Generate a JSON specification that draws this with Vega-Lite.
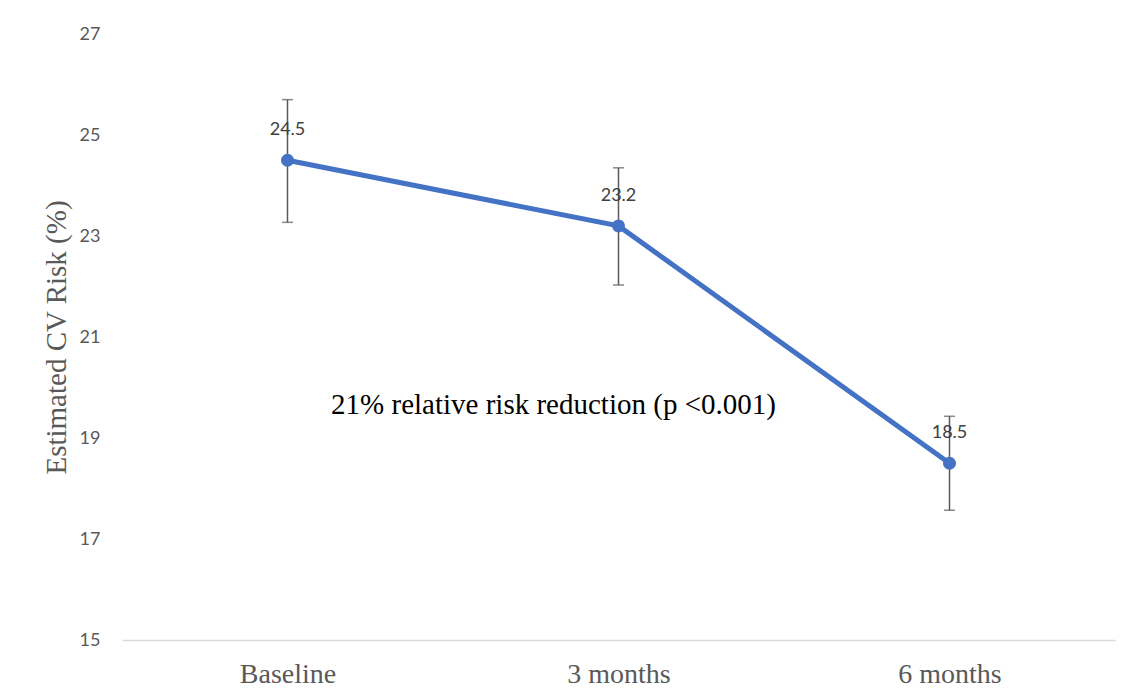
{
  "$schema": "https://vega.github.io/schema/vega-lite/v6.json",
  "width": 993,
  "height": 606,
  "autosize": {"type": "none"},
  "padding": {"left": 122, "top": 34, "right": 13, "bottom": 59},
  "background": "white",
  "data": {
    "values": [
      {"period": "Baseline", "risk": 24.5, "lo": 23.27, "hi": 25.7, "label": "24.5"},
      {"period": "3 months", "risk": 23.2, "lo": 22.03, "hi": 24.35, "label": "23.2"},
      {"period": "6 months", "risk": 18.5, "lo": 17.57, "hi": 19.43, "label": "18.5"}
    ]
  },
  "encoding": {
    "x": {
      "field": "period",
      "type": "nominal",
      "sort": ["Baseline", "3 months", "6 months"],
      "scale": {"type": "point", "padding": 0.5},
      "axis": {
        "title": null,
        "labelAngle": 0,
        "labelFont": "Liberation Serif",
        "labelFontSize": 28,
        "labelColor": "#595959",
        "labelPadding": 20,
        "ticks": false,
        "domainColor": "#d9d9d9",
        "domainWidth": 1.5,
        "grid": false
      }
    }
  },
  "layer": [
    {
      "mark": {"type": "errorbar", "color": "#595959", "thickness": 1.5, "ticks": {"size": 11, "thickness": 1.5, "color": "#595959"}},
      "encoding": {
        "y": {
          "field": "lo",
          "type": "quantitative",
          "scale": {"domain": [15, 27], "nice": false, "zero": false},
          "axis": {
            "title": "Estimated CV Risk (%)",
            "titleFont": "Liberation Serif",
            "titleFontSize": 29,
            "titleFontWeight": "normal",
            "titleColor": "#595959",
            "titlePadding": 8,
            "values": [15, 17, 19, 21, 23, 25, 27],
            "labelFont": "Lato",
            "labelFontSize": 18,
            "labelColor": "#595959",
            "labelPadding": 22,
            "ticks": false,
            "domain": false,
            "grid": false
          }
        },
        "y2": {"field": "hi"}
      }
    },
    {
      "mark": {"type": "line", "color": "#4472C4", "strokeWidth": 5},
      "encoding": {"y": {"field": "risk", "type": "quantitative"}}
    },
    {
      "mark": {"type": "point", "filled": true, "opacity": 1, "color": "#4472C4", "size": 169, "shape": "circle"},
      "encoding": {"y": {"field": "risk", "type": "quantitative"}}
    },
    {
      "mark": {"type": "text", "font": "Lato", "fontSize": 18, "color": "#404040", "baseline": "middle", "dy": -30},
      "encoding": {
        "y": {"field": "risk", "type": "quantitative"},
        "text": {"field": "label"}
      }
    },
    {
      "data": {"values": [{"period": "3 months", "y": 19.65, "note": "21% relative risk reduction (p <0.001)"}]},
      "mark": {"type": "text", "font": "Liberation Serif", "fontSize": 29, "color": "#000000", "baseline": "middle", "align": "center", "dx": -65},
      "encoding": {
        "y": {"field": "y", "type": "quantitative"},
        "text": {"field": "note"}
      }
    }
  ],
  "config": {"view": {"stroke": null}}
}
